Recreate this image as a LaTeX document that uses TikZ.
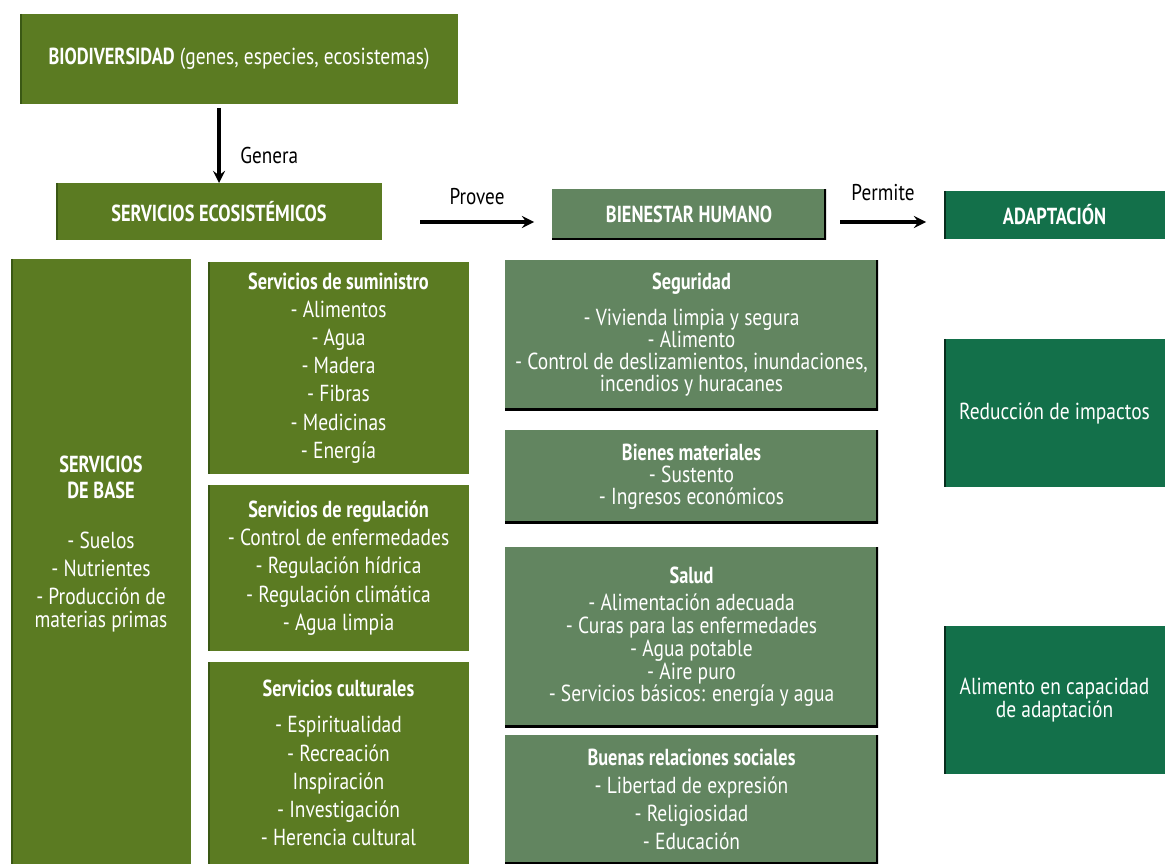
\documentclass[tikz,border=0pt]{standalone}
\usepackage{fontspec}
\setmainfont{PT Sans}[FakeStretch=0.84, BoldFeatures={FakeStretch=0.79}]
\usetikzlibrary{positioning, arrows}
\definecolor{verdeoliva}{RGB}{91,123,34}
\definecolor{verdeoscuro}{RGB}{58,88,20}
\definecolor{verdegris}{RGB}{98,133,96}
\definecolor{verdeadapt}{RGB}{19,112,74}
\newlength\px
\setlength\px{0.02cm}
\tikzset{
		caja/.style={
			rectangle,
			anchor=north west,
			align=center,
			text=white,
			inner sep=0pt,
			outer sep=0pt,
			font=\fontsize{13.2}{16}\selectfont
		},
		borde izq/.style={
			path picture={
				\draw[#1, line width=4\px] (path picture bounding box.north west) -- (path picture bounding box.south west);
			}
		},
		servicio/.style={caja, fill=verdeoliva, borde izq=verdeoscuro},
		bienestar/.style={caja, fill=verdegris,
			path picture={
				\draw[black, line width=4\px] (path picture bounding box.north east) -- (path picture bounding box.south east)
					-- (path picture bounding box.south west);
			}
		},
		adapt/.style={caja, fill=verdeadapt, borde izq=black!60!verdeadapt},
		flecha/.style={-stealth, line width=2pt},
		etiqueta/.style={font=\fontsize{13}{14}\selectfont, inner sep=2pt}
	}

\begin{document}
\begin{tikzpicture}[x=0.02cm, y=-0.02cm]
		\useasboundingbox (0,0) rectangle (1165,864);
		% fila superior
		\node (bio) [servicio, minimum width=438\px, minimum height=90\px] at (20,14)
			{\textbf{BIODIVERSIDAD} (genes, especies, ecosistemas)};
		\node (eco) [servicio, minimum width=326\px, minimum height=57\px] at (56,183)
			{\textbf{SERVICIOS ECOSISTÉMICOS}};
		\node (bien) [bienestar, minimum width=274\px, minimum height=51\px] at (552,189)
			{\textbf{BIENESTAR HUMANO}};
		\node (adap) [adapt, minimum width=221\px, minimum height=48\px] at (944,191)
			{\textbf{ADAPTACIÓN}};
		% servicios
		\node (base) [servicio, minimum width=180\px, minimum height=605\px] at (11,259)
			{\textbf{SERVICIOS}\\[-2\px] \textbf{DE BASE}\\[22\px]
			 - Suelos\\ - Nutrientes\\ - Producción de\\[-6\px] materias primas\\[12\px]\mbox{}};
		\node (sumi) [servicio, minimum width=261\px, minimum height=212\px] at (208,262)
			{\textbf{Servicios de suministro}\\ - Alimentos\\ - Agua\\ - Madera\\ - Fibras\\ - Medicinas\\ - Energía};
		\node (regu) [servicio, minimum width=261\px, minimum height=166\px] at (208,485)
			{\textbf{Servicios de regulación}\\ - Control de enfermedades\\ - Regulación hídrica\\
			 - Regulación climática\\ - Agua limpia};
		\node (cult) [servicio, minimum width=261\px, minimum height=202\px] at (208,662)
			{\textbf{Servicios culturales}\\[8\px] - Espiritualidad\\ - Recreación\\ Inspiración\\
			 - Investigación\\ - Herencia cultural};
		% bienestar
		\node (segu) [bienestar, minimum width=373\px, minimum height=150\px, font=\fontsize{13.2}{12.5}\selectfont] at (505,260)
			{\textbf{Seguridad}\\[14\px] - Vivienda limpia y segura\\ - Alimento\\
			 - Control de deslizamientos, inundaciones,\\ incendios y huracanes};
		\node (mate) [bienestar, minimum width=373\px, minimum height=93\px, font=\fontsize{13.2}{12.5}\selectfont] at (505,430)
			{\textbf{Bienes materiales}\\ - Sustento\\ - Ingresos económicos};
		\node (salu) [bienestar, minimum width=373\px, minimum height=180\px, font=\fontsize{13.2}{13}\selectfont] at (505,547)
			{\textbf{Salud}\\[4\px] - Alimentación adecuada\\ - Curas para las enfermedades\\ - Agua potable\\
			 - Aire puro\\ - Servicios básicos: energía y agua};
		\node (soci) [bienestar, minimum width=373\px, minimum height=129\px] at (505,735)
			{\textbf{Buenas relaciones sociales}\\ - Libertad de expresión\\ - Religiosidad\\ - Educación};
		% adaptacion
		\node (redu) [adapt, minimum width=221\px, minimum height=148\px] at (944,339)
			{Reducción de impactos};
		\node (alim) [adapt, minimum width=221\px, minimum height=148\px, font=\fontsize{13.2}{11}\selectfont] at (944,626)
			{Alimento en capacidad\\ de adaptación};
		% flechas
		\draw [flecha] ([yshift=-4\px]eco.north |- bio.south) -- (eco.north)
			node [midway, right=16\px, yshift=-10\px, etiqueta] {Genera};
		\coordinate (p1) at ([xshift=38\px, yshift=-10.5\px]eco.east);
		\coordinate (p2) at ([xshift=-18\px]bien.west |- p1);
		\draw [flecha] (p1) -- (p2) node [midway, above=12\px, etiqueta] {Provee};
		\coordinate (p3) at ([xshift=14\px, yshift=-7.5\px]bien.east);
		\coordinate (p4) at ([xshift=-18\px]adap.west |- p3);
		\draw [flecha] (p3) -- (p4) node [midway, above=16\px, etiqueta] {Permite};
\end{tikzpicture}
\end{document}
